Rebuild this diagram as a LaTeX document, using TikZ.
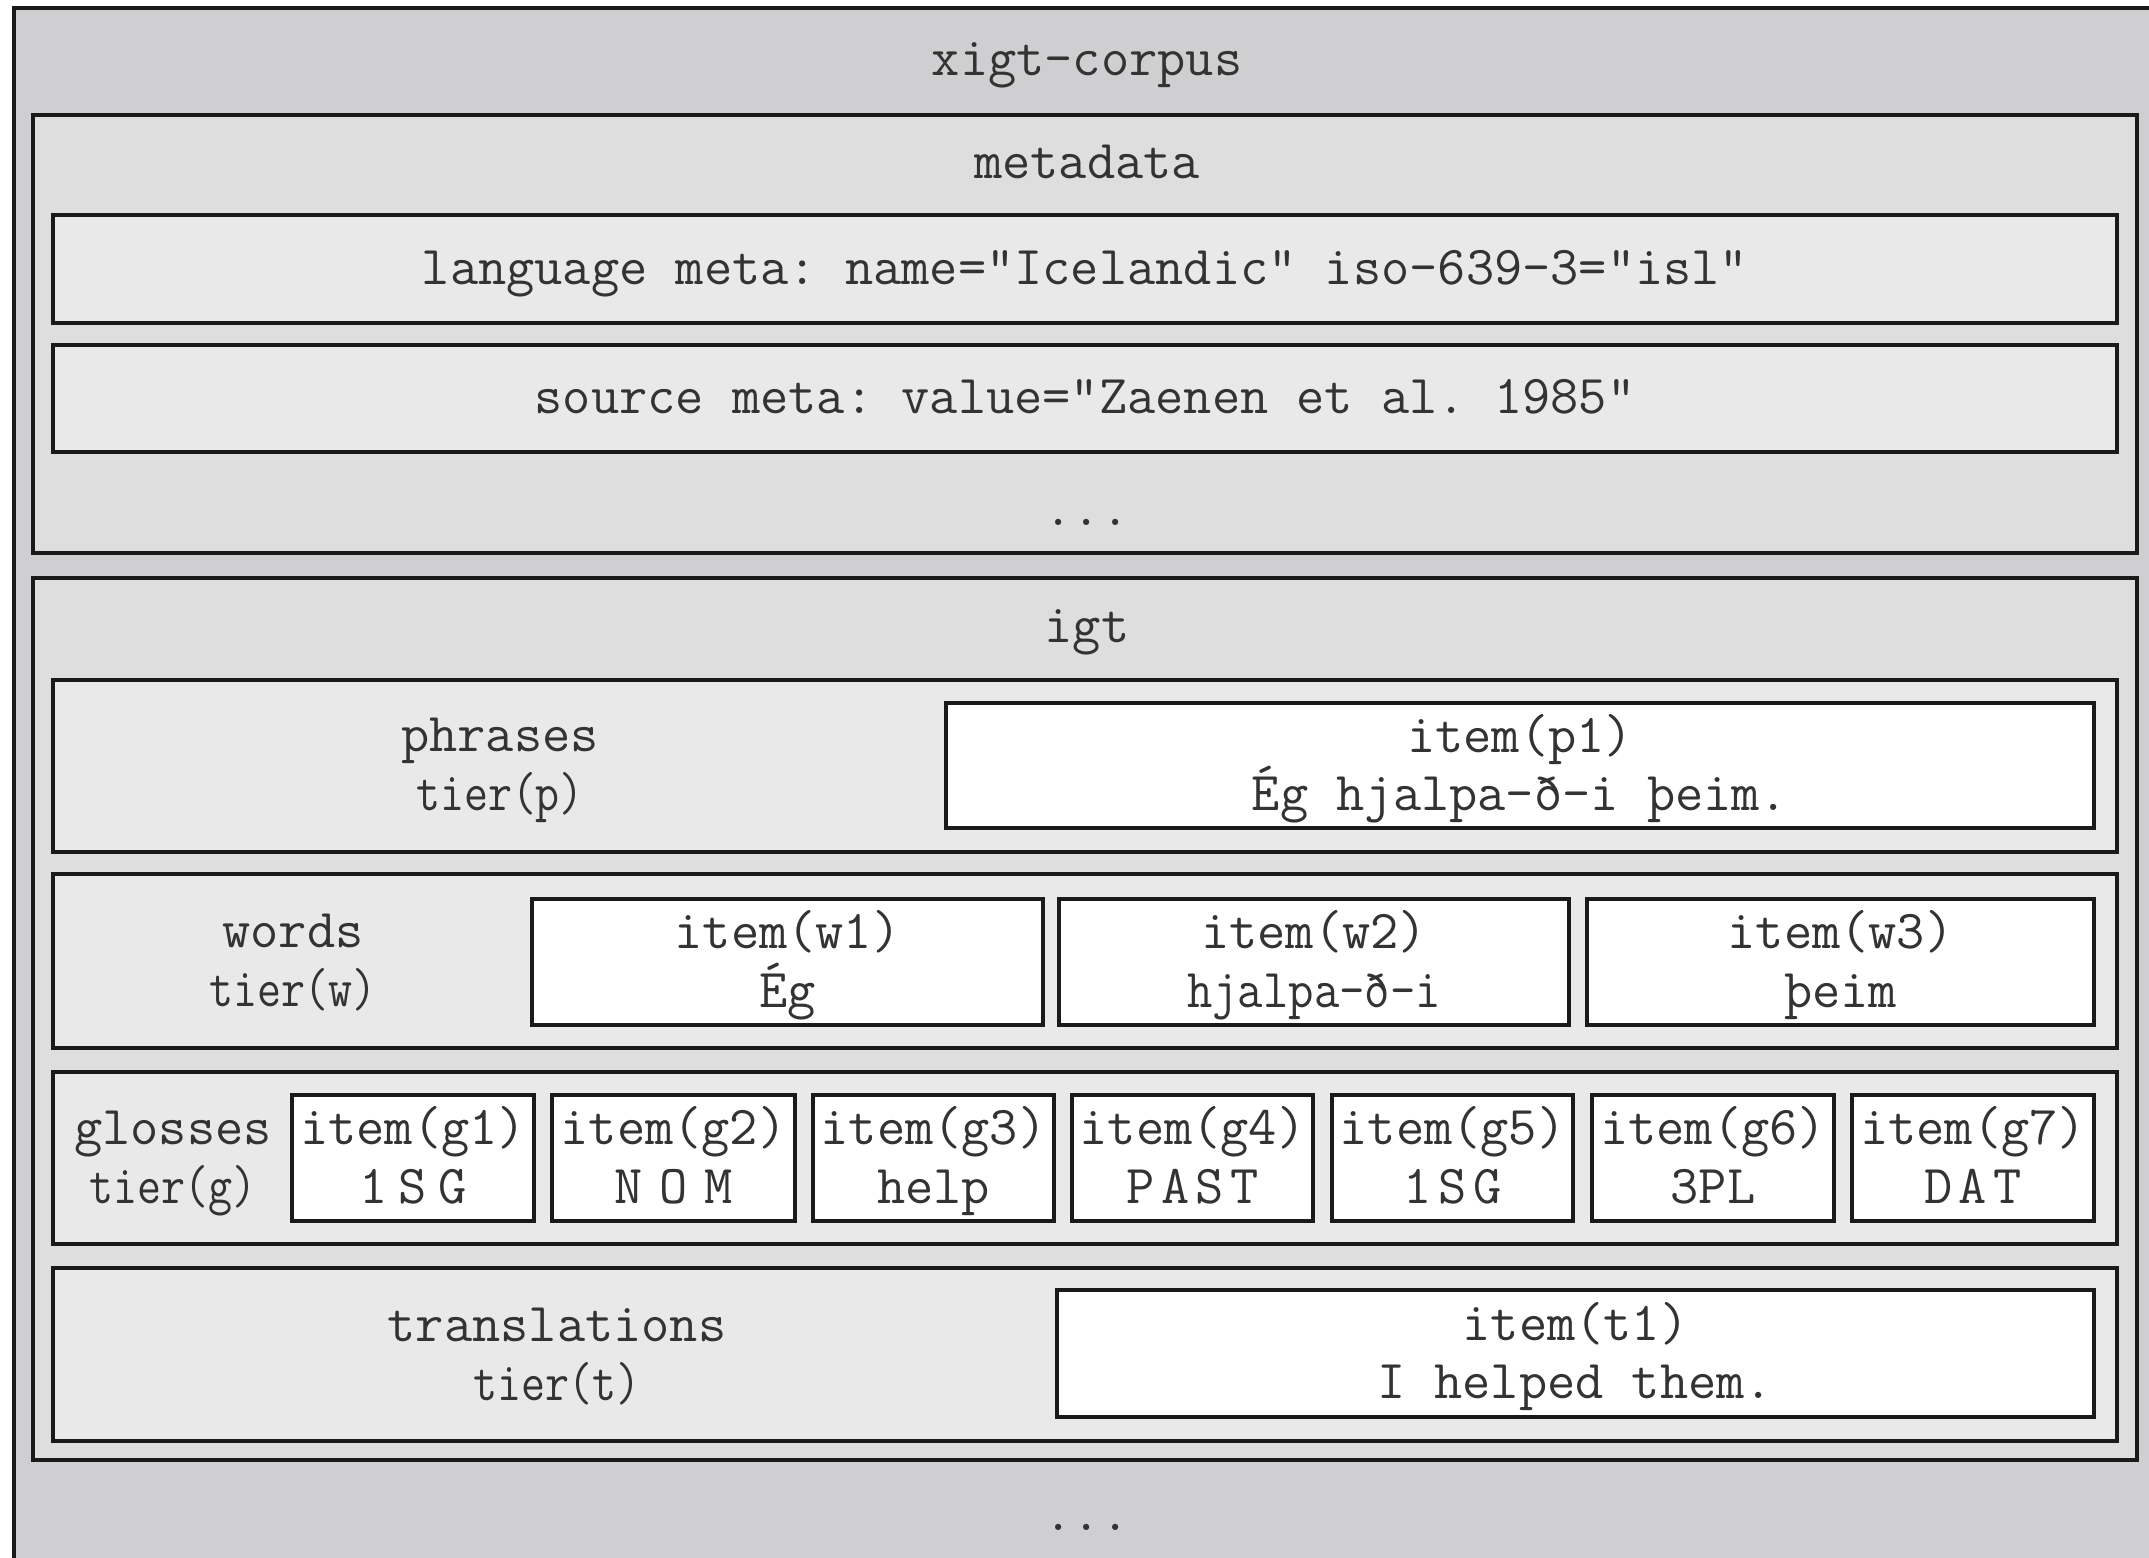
\documentclass[tikz,border=0pt]{standalone}
\usepackage{fontspec}
\usepackage{graphicx}
\newfontfamily\monofam{Latin Modern Mono}
\usetikzlibrary{fit}
\definecolor{cOuter}{HTML}{CFCFD1}
\definecolor{cMid}{HTML}{DEDEDE}
\definecolor{cTier}{HTML}{E9E9E9}
\definecolor{cText}{HTML}{333333}
\definecolor{cLine}{HTML}{1A1A1A}
\frenchspacing
\tikzset{
  every node/.style={font=\monofam\fontsize{13.7pt}{14.7pt}\selectfont\frenchspacing, text=cText},
  box/.style={draw=cLine, line width=1.2pt, inner sep=0pt, outer sep=0pt},
  outerbox/.style={box, fill=cOuter},
  midbox/.style={box, fill=cMid},
  tierbox/.style={box, fill=cTier},
  itembox/.style={box, fill=white},
  lbl/.style={align=center, inner sep=0pt, yshift=-1pt},
  lblone/.style={align=center, inner sep=0pt, yshift=-2pt},
  dots/.style={anchor=base, inner sep=0pt},
}
\newcommand{\tiername}[1]{\scalebox{0.85}[1]{#1}}
\newcommand{\spc}[2]{{\addfontfeature{LetterSpace=#1}#2}}
\newcommand{\onel}[1]{\rule[-0.36em]{0pt}{0.8em}#1}
\newcommand{\twol}[2]{\rule{0pt}{0.8em}#1\\#2\rule[-0.36em]{0pt}{0pt}}
\begin{document}
\begin{tikzpicture}[x=0.25pt,y=-0.25pt]
\useasboundingbox (0,0) rectangle (2149,1558);
\clip (0,0) rectangle (2149,1558);
% outer corpus box
\node[outerbox, fit={(14,8) (2220,1620)}] (corpus) {};
\node[lblone] (corpuslbl) at (1087,61) {\onel{xigt-corpus}};
% metadata
\node[midbox, fit={(33,115) (2137,553)}] (meta) {};
\node[lblone] (metalbl) at (1087,164) {\onel{metadata}};
\node[tierbox, fit={(53,215) (2117,323)}] (lang) {};
\node[lblone] (langlbl) at (lang.center) {\onel{language meta: name="Icelandic" iso-639-3="isl"}};
\node[tierbox, fit={(53,345) (2117,452)}] (src) {};
\node[lblone] (srclbl) at (src.center) {\onel{source meta: value="Zaenen et al. 1985"}};
\node[dots] (metadots) at (1087,526) {...};
% igt
\node[midbox, fit={(33,578) (2137,1460)}] (igt) {};
\node[lblone] (igtlbl) at (1087,628) {\onel{igt}};
% phrases
\node[tierbox, fit={(53,680) (2117,852)}] (phr) {};
\node[itembox, fit={(946,703) (2094,828)}] (p1) {};
\node[lbl] (p1lbl) at (p1.center) {\twol{item(p1)}{Ég hjalpa-ð-i þeim.}};
\node[lbl] (phrlbl) at (500,765) {\twol{phrases}{\tiername{tier(p)}}};
% words
\node[tierbox, fit={(53,874) (2117,1048)}] (wrd) {};
\node[itembox, fit={(532,899) (1043,1025)}] (w1) {};
\node[itembox, fit={(1059,899) (1569,1025)}] (w2) {};
\node[itembox, fit={(1587,899) (2094,1025)}] (w3) {};
\node[lbl] (w1lbl) at (w1.center) {\twol{item(w1)}{Ég}};
\node[lbl] (w2lbl) at (w2.center) {\twol{item(w2)}{\scalebox{0.9}[1]{hjalpa-ð-i}}};
\node[lbl] (w3lbl) at (w3.center) {\twol{item(w3)}{þeim}};
\node[lbl] (wrdlbl) at (293,961) {\twol{words}{\tiername{tier(w)}}};
% glosses
\node[tierbox, fit={(53,1072) (2117,1244)}] (gls) {};
\node[itembox, fit={(292,1095) (534,1221)}] (g1) {};
\node[itembox, fit={(552,1095) (795,1221)}] (g2) {};
\node[itembox, fit={(813,1095) (1054,1221)}] (g3) {};
\node[itembox, fit={(1072,1095) (1313,1221)}] (g4) {};
\node[itembox, fit={(1332,1095) (1573,1221)}] (g5) {};
\node[itembox, fit={(1592,1095) (1834,1221)}] (g6) {};
\node[itembox, fit={(1852,1095) (2094,1221)}] (g7) {};
\node[lbl] (g1lbl) at (g1.center) {\twol{item(g1)}{\spc{20}{1SG}}};
\node[lbl] (g2lbl) at (g2.center) {\twol{item(g2)}{\spc{30}{NOM}}};
\node[lbl] (g3lbl) at (g3.center) {\twol{item(g3)}{help}};
\node[lbl] (g4lbl) at (g4.center) {\twol{item(g4)}{\spc{12}{PAST}}};
\node[lbl] (g5lbl) at (g5.center) {\twol{item(g5)}{\spc{12}{1SG}}};
\node[lbl] (g6lbl) at (g6.center) {\twol{item(g6)}{3PL}};
\node[lbl] (g7lbl) at (g7.center) {\twol{item(g7)}{\spc{12}{DAT}}};
\node[lbl] (glslbl) at (173,1158) {\twol{glosses}{\tiername{tier(g)}}};
% translations
\node[tierbox, fit={(53,1268) (2117,1441)}] (trn) {};
\node[itembox, fit={(1057,1290) (2094,1417)}] (t1) {};
\node[lbl] (t1lbl) at (t1.center) {\twol{item(t1)}{I helped them.}};
\node[lbl] (trnlbl) at (557,1355) {\twol{translations}{\tiername{tier(t)}}};
% trailing dots
\node[dots] (corpusdots) at (1087,1530) {...};
\end{tikzpicture}
\end{document}
